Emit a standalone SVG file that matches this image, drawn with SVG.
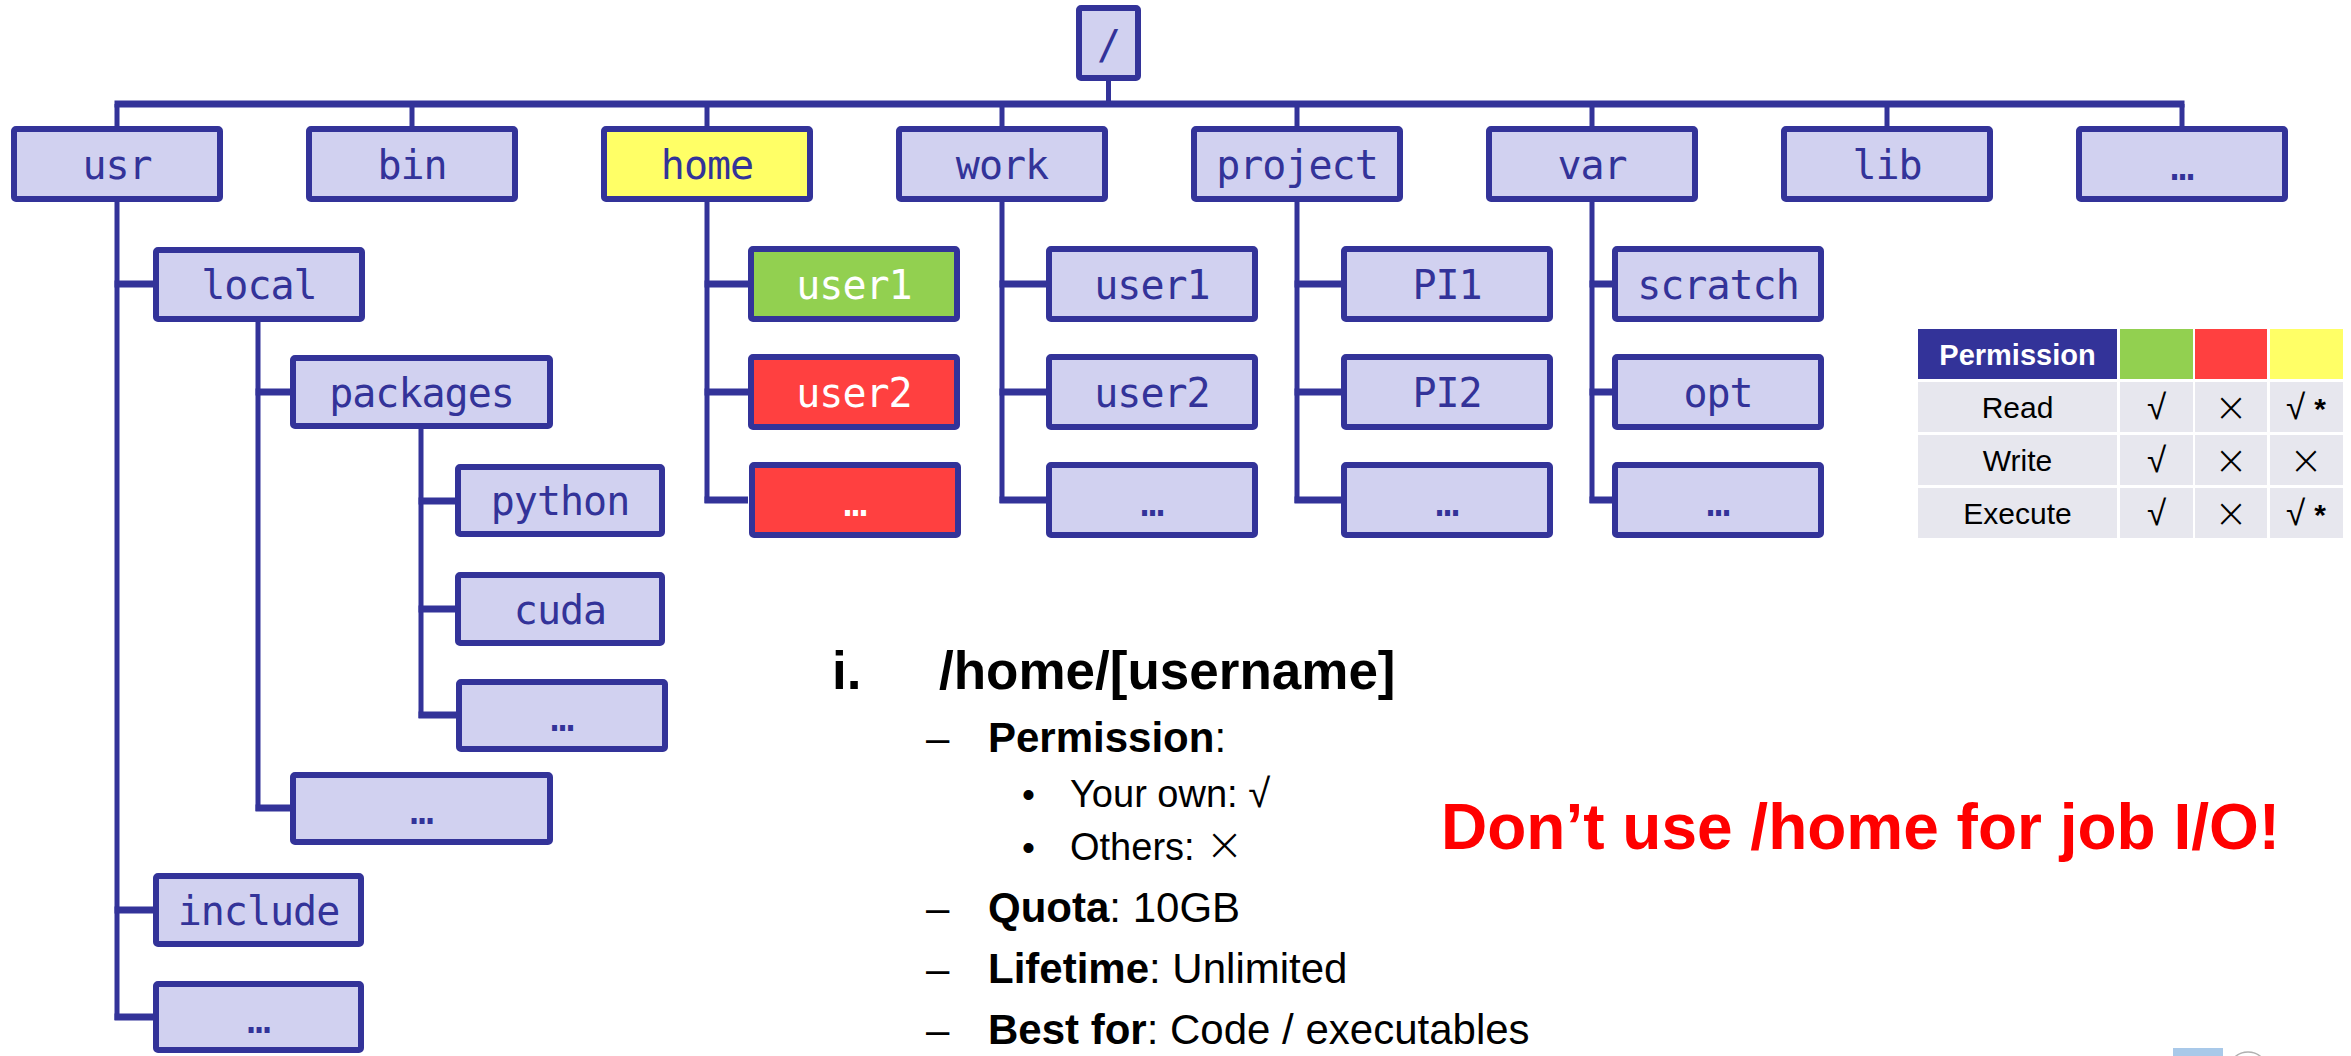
<svg xmlns="http://www.w3.org/2000/svg" width="2351" height="1056" viewBox="0 0 2351 1056">
<style>
.box{fill:#D1D1F0;stroke:#333399;stroke-width:6;stroke-linejoin:round}
.g{fill:#92D050}
.r{fill:#FF4040}
.y{fill:#FFFF66}
.t{font-family:"DejaVu Sans Mono","Liberation Mono",monospace;font-size:40px;letter-spacing:-1px;fill:#333399;text-anchor:middle}
.w{fill:#FFFFFF}
.v{stroke:#333399;stroke-width:5;fill:none}
.h{stroke:#333399;stroke-width:7;fill:none}
.cell{fill:#E7E7EE}
.tt{font-family:"Liberation Sans",Arial,sans-serif;font-size:30px;fill:#000;text-anchor:middle}
.th{font-family:"Liberation Sans",Arial,sans-serif;font-size:29px;font-weight:bold;fill:#FFFFFF;text-anchor:middle}
.ck{font-family:"DejaVu Sans","Liberation Sans",sans-serif;font-size:35px;font-weight:200;fill:#000;text-anchor:middle}
.x{font-family:"DejaVu Sans","Liberation Sans",sans-serif;font-size:40px;font-weight:200;fill:#000;text-anchor:middle}
.ast{font-family:"Liberation Sans",Arial,sans-serif;font-size:30px;font-weight:bold}
.b{font-family:"Liberation Sans",Arial,sans-serif;fill:#000}
.bold{font-weight:bold}
.thin{font-family:"DejaVu Sans","Liberation Sans",sans-serif;font-weight:200}
</style>

<g id="connectors">
  <path class="v" d="M1108.5 81 V104"/>
  <path class="h" d="M114.5 104 H2184.5"/>
  <path class="v" d="M117 104 V126 M412 104 V126 M707 104 V126 M1002 104 V126 M1297 104 V126 M1592 104 V126 M1887 104 V126 M2182 104 V126"/>
  <path class="v" d="M117 202 V1020"/>
  <path class="h" d="M114.5 284 H153 M114.5 910 H153 M114.5 1017 H153"/>
  <path class="v" d="M258 322 V811"/>
  <path class="h" d="M255.5 392 H290 M255.5 808 H290"/>
  <path class="v" d="M421 429 V718"/>
  <path class="h" d="M418.5 501 H455 M418.5 609 H455 M418.5 715 H456"/>
  <path class="v" d="M707 202 V503"/>
  <path class="h" d="M704.5 284 H748 M704.5 392 H748 M704.5 500 H748"/>
  <path class="v" d="M1002 202 V503"/>
  <path class="h" d="M999.5 284 H1046 M999.5 392 H1046 M999.5 500 H1046"/>
  <path class="v" d="M1297 202 V503"/>
  <path class="h" d="M1294.5 284 H1341 M1294.5 392 H1341 M1294.5 500 H1341"/>
  <path class="v" d="M1592 202 V503"/>
  <path class="h" d="M1589.5 284 H1612 M1589.5 392 H1612 M1589.5 500 H1612"/>
</g>

<g id="root"><rect class="box" x="1079" y="8" width="59" height="70" rx="2"/><text class="t" x="1108.5" y="59">/</text></g>

<g id="usr"><rect class="box" x="14" y="129" width="206" height="70" rx="2"/><text class="t" x="117" y="179">usr</text></g>
<g id="bin"><rect class="box" x="309" y="129" width="206" height="70" rx="2"/><text class="t" x="412" y="179">bin</text></g>
<g id="home"><rect class="box y" x="604" y="129" width="206" height="70" rx="2"/><text class="t" x="707" y="179">home</text></g>
<g id="work"><rect class="box" x="899" y="129" width="206" height="70" rx="2"/><text class="t" x="1002" y="179">work</text></g>
<g id="project"><rect class="box" x="1194" y="129" width="206" height="70" rx="2"/><text class="t" x="1297" y="179">project</text></g>
<g id="var"><rect class="box" x="1489" y="129" width="206" height="70" rx="2"/><text class="t" x="1592" y="179">var</text></g>
<g id="lib"><rect class="box" x="1784" y="129" width="206" height="70" rx="2"/><text class="t" x="1887" y="179">lib</text></g>
<g id="top-more"><rect class="box" x="2079" y="129" width="206" height="70" rx="2"/><text class="t" x="2182" y="180">…</text></g>

<g id="local"><rect class="box" x="156" y="250" width="206" height="69" rx="2"/><text class="t" x="259" y="299">local</text></g>
<g id="packages"><rect class="box" x="293" y="358" width="257" height="68" rx="2"/><text class="t" x="421.5" y="407">packages</text></g>
<g id="python"><rect class="box" x="458" y="467" width="204" height="67" rx="2"/><text class="t" x="560" y="515">python</text></g>
<g id="cuda"><rect class="box" x="458" y="575" width="204" height="68" rx="2"/><text class="t" x="560" y="624">cuda</text></g>
<g id="pkg-more"><rect class="box" x="459" y="682" width="206" height="67" rx="2"/><text class="t" x="562" y="731">…</text></g>
<g id="local-more"><rect class="box" x="293" y="775" width="257" height="67" rx="2"/><text class="t" x="421.5" y="824">…</text></g>
<g id="include"><rect class="box" x="156" y="876" width="205" height="68" rx="2"/><text class="t" x="258.5" y="925">include</text></g>
<g id="usr-more"><rect class="box" x="156" y="984" width="205" height="66" rx="2"/><text class="t" x="258.5" y="1033">…</text></g>

<g id="home-user1"><rect class="box g" x="751" y="249" width="206" height="70" rx="2"/><text class="t w" x="854" y="299">user1</text></g>
<g id="home-user2"><rect class="box r" x="751" y="357" width="206" height="70" rx="2"/><text class="t w" x="854" y="407">user2</text></g>
<g id="home-more"><rect class="box r" x="752" y="465" width="206" height="70" rx="2"/><text class="t w" x="855" y="516">…</text></g>

<g id="work-user1"><rect class="box" x="1049" y="249" width="206" height="70" rx="2"/><text class="t" x="1152" y="299">user1</text></g>
<g id="work-user2"><rect class="box" x="1049" y="357" width="206" height="70" rx="2"/><text class="t" x="1152" y="407">user2</text></g>
<g id="work-more"><rect class="box" x="1049" y="465" width="206" height="70" rx="2"/><text class="t" x="1152" y="516">…</text></g>

<g id="pi1"><rect class="box" x="1344" y="249" width="206" height="70" rx="2"/><text class="t" x="1447" y="299">PI1</text></g>
<g id="pi2"><rect class="box" x="1344" y="357" width="206" height="70" rx="2"/><text class="t" x="1447" y="407">PI2</text></g>
<g id="project-more"><rect class="box" x="1344" y="465" width="206" height="70" rx="2"/><text class="t" x="1447" y="516">…</text></g>

<g id="scratch"><rect class="box" x="1615" y="249" width="206" height="70" rx="2"/><text class="t" x="1718" y="299">scratch</text></g>
<g id="opt"><rect class="box" x="1615" y="357" width="206" height="70" rx="2"/><text class="t" x="1718" y="407">opt</text></g>
<g id="var-more"><rect class="box" x="1615" y="465" width="206" height="70" rx="2"/><text class="t" x="1718" y="516">…</text></g>

<g id="permission-table">
  <rect x="1918" y="329" width="199" height="50" fill="#333399"/>
  <rect x="2120" y="329" width="73" height="50" class="g"/>
  <rect x="2195" y="329" width="72" height="50" class="r"/>
  <rect x="2270" y="329" width="73" height="50" class="y"/>
  <text class="th" x="2017.5" y="365">Permission</text>

  <rect class="cell" x="1918" y="382" width="199" height="50"/>
  <rect class="cell" x="2120" y="382" width="73" height="50"/>
  <rect class="cell" x="2195" y="382" width="72" height="50"/>
  <rect class="cell" x="2270" y="382" width="73" height="50"/>
  <text class="tt" x="2017.5" y="418">Read</text>
  <text class="ck" x="2156.5" y="419">√</text>
  <text class="x" x="2231" y="421">×</text>
  <text class="ck" x="2306" y="419">√<tspan class="ast" dx="9">*</tspan></text>

  <rect class="cell" x="1918" y="435" width="199" height="50"/>
  <rect class="cell" x="2120" y="435" width="73" height="50"/>
  <rect class="cell" x="2195" y="435" width="72" height="50"/>
  <rect class="cell" x="2270" y="435" width="73" height="50"/>
  <text class="tt" x="2017.5" y="471">Write</text>
  <text class="ck" x="2156.5" y="472">√</text>
  <text class="x" x="2231" y="474">×</text>
  <text class="x" x="2306" y="474">×</text>

  <rect class="cell" x="1918" y="488" width="199" height="50"/>
  <rect class="cell" x="2120" y="488" width="73" height="50"/>
  <rect class="cell" x="2195" y="488" width="72" height="50"/>
  <rect class="cell" x="2270" y="488" width="73" height="50"/>
  <text class="tt" x="2017.5" y="524">Execute</text>
  <text class="ck" x="2156.5" y="525">√</text>
  <text class="x" x="2231" y="527">×</text>
  <text class="ck" x="2306" y="525">√<tspan class="ast" dx="9">*</tspan></text>
</g>

<g id="notes">
  <text class="b bold" x="832" y="689" font-size="53">i.</text>
  <text class="b bold" x="939" y="689" font-size="53">/home/[username]</text>
  <text class="b" x="926" y="752" font-size="42">–</text>
  <text class="b" x="988" y="752" font-size="42"><tspan class="bold">Permission</tspan>:</text>
  <text class="b" x="1022" y="807" font-size="37">•</text>
  <text class="b" x="1070" y="807" font-size="38">Your own: <tspan class="thin" font-size="40">√</tspan></text>
  <text class="b" x="1022" y="860" font-size="37">•</text>
  <text class="b" x="1070" y="860" font-size="38">Others: <tspan class="thin" font-size="46">×</tspan></text>
  <text class="b" x="926" y="922" font-size="42">–</text>
  <text class="b" x="988" y="922" font-size="42"><tspan class="bold">Quota</tspan>: 10GB</text>
  <text class="b" x="926" y="983" font-size="42">–</text>
  <text class="b" x="988" y="983" font-size="42"><tspan class="bold">Lifetime</tspan>: Unlimited</text>
  <text class="b" x="926" y="1044" font-size="42">–</text>
  <text class="b" x="988" y="1044" font-size="42"><tspan class="bold">Best for</tspan>: Code / executables</text>
</g>

<g id="warning">
  <text x="1441" y="849" font-family="'Liberation Sans',Arial,sans-serif" font-size="64" font-weight="bold" fill="#FF0000">Don’t use /home for job I/O!</text>
</g>

<g id="corner-logo">
  <rect x="2173" y="1048" width="50" height="8" fill="#A9C9E9"/>
  <circle cx="2248" cy="1072" r="20" fill="none" stroke="#B0B0B0" stroke-width="1.5"/>
</g>
</svg>
